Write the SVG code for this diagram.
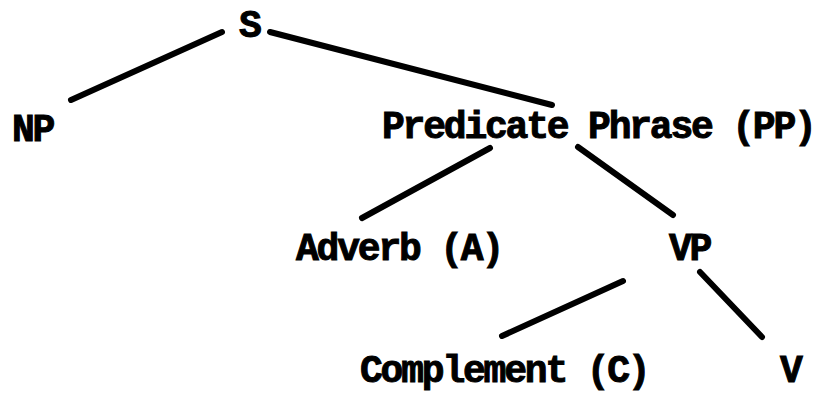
<svg xmlns="http://www.w3.org/2000/svg" width="816" height="395" viewBox="0 0 816 395">
<style>
text{font-family:"Liberation Mono","DejaVu Sans Mono",monospace;font-weight:bold;font-size:38px;letter-spacing:-2.2px;fill:#000;stroke:#000;stroke-width:1}
.e{stroke:#000;stroke-width:6;stroke-linecap:round;fill:none}
</style>
<rect width="816" height="395" fill="#fff"/>
<g id="edges">
<line class="e" x1="222" y1="32" x2="71" y2="100"/>
<line class="e" x1="270" y1="32" x2="552" y2="105"/>
<line class="e" x1="490" y1="148" x2="362" y2="218"/>
<line class="e" x1="578" y1="147" x2="673" y2="215"/>
<line class="e" x1="623" y1="281" x2="502" y2="336"/>
<line class="e" x1="700" y1="272" x2="762" y2="337"/>
</g>
<g id="S"><text x="239" y="37">S</text></g>
<g id="NP"><text x="12" y="141">NP</text></g>
<g id="PP"><text x="382" y="138">Predicate Phrase (PP)</text></g>
<g id="A"><text x="296" y="260">Adverb (A)</text></g>
<g id="VP"><text x="669" y="260">VP</text></g>
<g id="C"><text x="360" y="382">Complement (C)</text></g>
<g id="V"><text x="780" y="382">V</text></g>
</svg>
